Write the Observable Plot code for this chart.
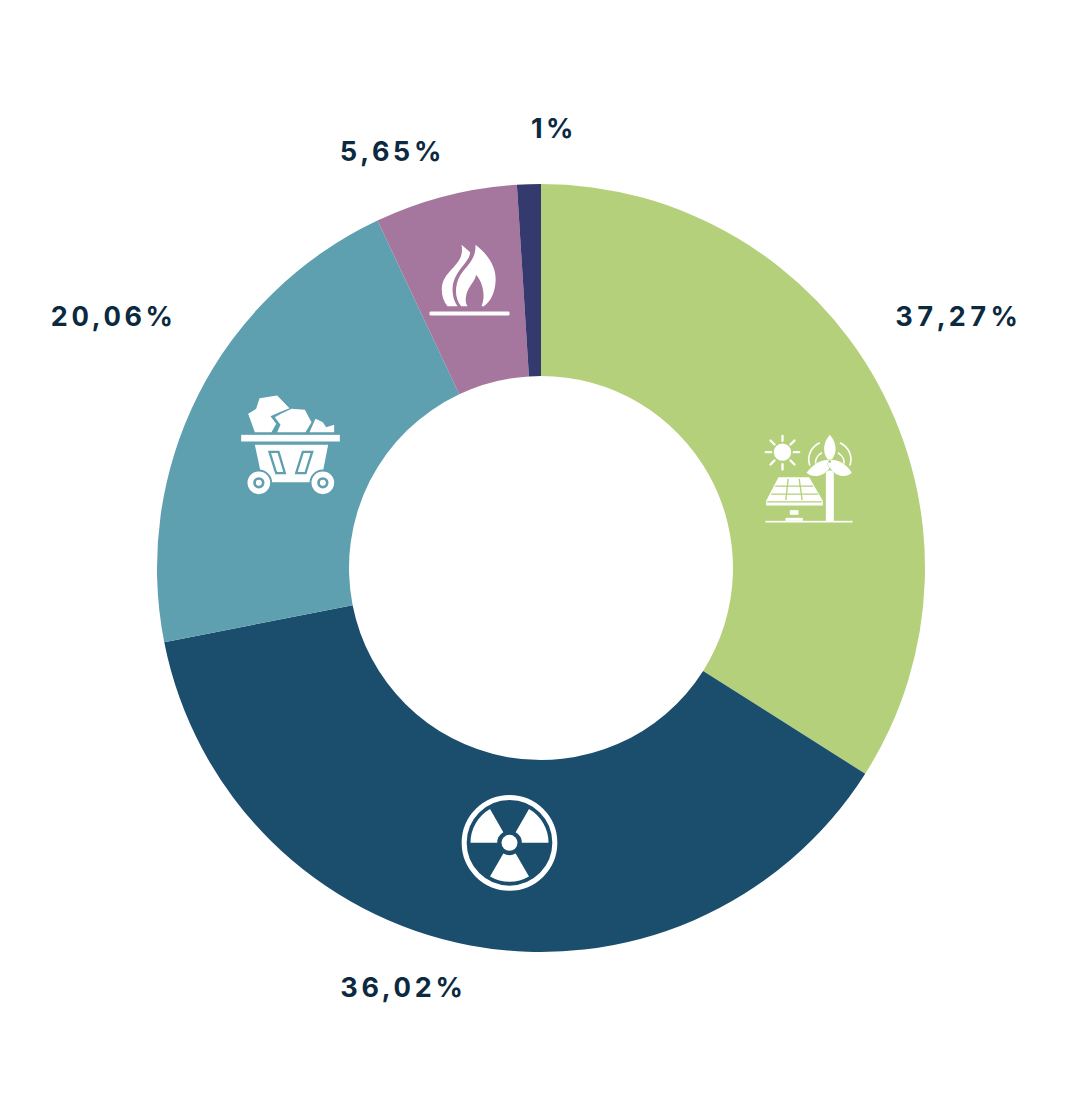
<!DOCTYPE html>
<html><head><meta charset="utf-8">
<script src="https://cdn.jsdelivr.net/npm/d3@7"></script>
<script src="https://cdn.jsdelivr.net/npm/@observablehq/plot@0.6"></script>
<style>html,body{margin:0;padding:0;background:#fff}svg{display:block}</style>
</head><body><div id="chart"></div>
<script>
// Data: the arcs as drawn and the labels as printed differ in the source.
const sources = ["Renewables", "Nuclear", "Coal", "Gas", "Other"];
const drawnShares = [34, 37.9, 21.1, 6, 1];
const printedLabels = ["37,27%", "36,02%", "20,06%", "5,65%", "1%"];
const sliceColors = ["#b4d07b", "#1b4e6d", "#5e9fb0", "#a5779e", "#343a6e"];

// Layout
const W = 1080, H = 1105, CX = 541, CY = 568, R_OUT = 384, R_IN = 192;
const labelX = [958, 403, 113, 392, 553.5];
const labelY = [317, 988, 317, 152, 129];

const W_ = "#ffffff", G = "#b4d07b", T = "#5e9fb0";
const rad = (r0, r1, a) => d3.arc()({innerRadius: r0, outerRadius: r1, startAngle: (a - 30) * Math.PI / 180, endAngle: (a + 30) * Math.PI / 180});
const solarSvg = `<g fill="${W_}">
<circle cx="96" cy="80" r="26"/>
<g stroke="${W_}" stroke-width="7" stroke-linecap="round">
<path d="M96 31V46M96 116V132M46 80H62M130 80H146M60 45L72 57M132 45L120 57M60 117L72 105M132 117L120 105"/></g>
<path d="M84 155H176L217 226V240H47V226Z"/>
<g stroke="${G}" stroke-width="4" fill="none"><path d="M74 182H188M62 206H203M113 160L106 224M146 160L155 224M50 229H214"/></g>
<rect x="118" y="254" width="26" height="14"/><rect x="105" y="277" width="52" height="9"/>
<rect x="45" y="286" width="261" height="5"/>
<rect x="226" y="135" width="24" height="153"/>
<g fill="none" stroke="${W_}" stroke-width="5"><path d="M178 120C168 92 182 64 208 52M196 118C192 104 200 90 214 82M298 120C308 92 294 64 268 52M280 118C284 104 276 90 262 82"/></g>
<path stroke="${G}" stroke-width="3" paint-order="stroke" d="M238 108C216 90 214 55 238 28C262 55 260 90 238 108Z"/>
<path stroke="${G}" stroke-width="3" paint-order="stroke" d="M238 104C212 100 188 116 168 142C192 162 228 150 244 116Z"/>
<path stroke="${G}" stroke-width="3" paint-order="stroke" d="M238 104C264 100 288 116 304 142C282 162 248 150 232 116Z"/>
<circle cx="238" cy="108" r="4" fill="${G}"/></g>`;
const radiationSvg = `<g transform="translate(177 172)" fill="${W_}">
<circle r="136" fill="none" stroke="${W_}" stroke-width="15"/><circle r="24"/>
<path d="${rad(37, 117, -60)}"/><path d="${rad(37, 117, 60)}"/><path d="${rad(37, 117, 180)}"/></g>`;
const coalSvg = `<g fill="${W_}">
<path d="M72 38L125 30L162 68L132 80L105 92L122 115L108 140H58L38 85L62 70Z"/>
<path d="M168 70L208 73L228 110L210 140H125L135 118L118 95L138 84Z"/>
<path d="M240 100L262 110L272 125L296 118V140H222Z"/>
<rect x="17" y="148" width="296" height="20"/>
<path d="M58 178H278L256 290H82Z"/>
<g fill="${W_}" stroke="${T}" stroke-width="7"><path d="M102 199H129L148 263H122Z"/><path d="M202 199H230L210 263H182Z"/></g>
<g stroke="${T}" stroke-width="6"><circle cx="70" cy="292" r="37"/><circle cx="262" cy="292" r="37"/></g>
<circle cx="70" cy="292" r="17" fill="${T}"/><circle cx="70" cy="292" r="9"/>
<circle cx="262" cy="292" r="17" fill="${T}"/><circle cx="262" cy="292" r="9"/></g>`;
const flameSvg = `<g fill="${W_}">
<path d="M180 28C222 60 244 100 240 140C238 172 225 198 205 212H198C208 190 208 150 182 118C178 140 158 152 152 180C149 195 151 205 156 212H137C117 190 116 150 135 118C152 92 182 72 180 28Z"/>
<path d="M138 28L164 50C164 64 152 80 138 96C118 122 108 145 112 175C114 192 120 204 126 212H96C82 195 76 172 80 148C86 118 110 104 128 78C138 64 142 48 138 28Z"/>
<rect x="42" y="228" width="240" height="12" rx="4"/></g>`;
const dataUri = (w, h, body) => "data:image/svg+xml," + encodeURIComponent(`<svg xmlns="http://www.w3.org/2000/svg" viewBox="0 0 ${w} ${h}" width="${w}" height="${h}">${body}</svg>`);
const iconRows = [
  {x: 807.5, y: 477.5, w: 115, h: 105, src: dataUri(345, 315, solarSvg)},
  {x: 507.5, y: 842.5, w: 115, h: 115, src: dataUri(345, 345, radiationSvg)},
  {x: 292.5, y: 442.5, w: 115, h: 115, src: dataUri(345, 345, coalSvg)},
  {x: 467.5, y: 280, w: 105, h: 90, src: dataUri(315, 270, flameSvg)}
];

const sliceRows = sources.map((name, i) => ({name, share: drawnShares[i]}));
const labelRows = printedLabels.map((text, i) => ({text, x: labelX[i], y: labelY[i]}));
const textStyle = {x: "x", y: "y", text: "text", fill: "#0c2a3f", textAnchor: "middle", fontFamily: "Inter", fontSize: 27, fontWeight: 700};

const plot = Plot.plot({
  width: W, height: H, margin: 0,
  x: {domain: [0, W], range: [0, W], axis: null},
  y: {domain: [0, H], range: [0, H], axis: null},
  color: {domain: sources, range: sliceColors},
  style: {background: "#fff", letterSpacing: "3.6px"},
  marks: [
    Plot.dot(sliceRows, {
      x: () => CX, y: () => CY, fill: "name",
      render(index, scales, values) {
        const arcs = d3.pie().sort(null).value(d => d.share)(sliceRows);
        const arc = d3.arc().innerRadius(R_IN).outerRadius(R_OUT);
        const g = d3.create("svg:g");
        for (const i of index) {
          g.append("path")
            .attr("transform", `translate(${values.x[i]},${values.y[i]})`)
            .attr("fill", values.fill[i])
            .attr("d", arc(arcs[i]));
        }
        return g.node();
      }
    }),
    ...iconRows.map(d => Plot.image([d], {x: "x", y: "y", width: d.w, height: d.h, src: r => r.src})),
    Plot.text(labelRows.slice(0, 4), {...textStyle, fontVariant: "tabular-nums"}),
    Plot.text(labelRows.slice(4), textStyle)
  ]
});
document.getElementById("chart").append(plot);
</script></body></html>
